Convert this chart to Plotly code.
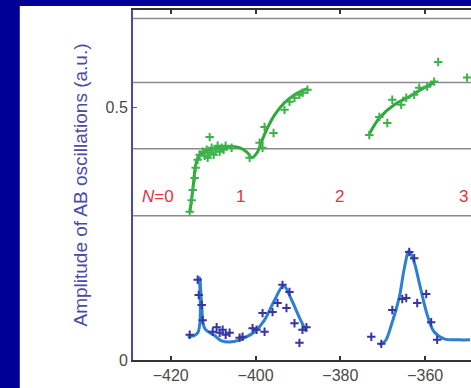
import plotly.graph_objects as go

# ---- data ----
green_pts_x = [-415.53, -415.06, -414.82, -414.35, -414.12, -413.65, -413.18, -412.47, -412.0, -411.53,
               -411.29, -410.82, -410.35, -409.88, -409.41, -408.94, -408.47, -408.0, -407.53, -407.06,
               -410.82, -405.65, -401.41, -399.06, -398.35, -397.88, -395.76, -393.18, -392.0, -390.82,
               -389.65, -388.94, -387.76,
               -373.18, -370.82, -368.94, -367.76, -365.65, -364.47, -362.59, -361.41, -359.53, -357.88,
               -356.94, -350.12]
green_pts_y = [0.294, 0.317, 0.337, 0.361, 0.381, 0.397, 0.407, 0.413, 0.405, 0.417,
               0.401, 0.411, 0.421, 0.407, 0.417, 0.425, 0.413, 0.421, 0.417, 0.425,
               0.442, 0.421, 0.401, 0.431, 0.421, 0.462, 0.450, 0.496, 0.512, 0.520,
               0.526, 0.530, 0.536,
               0.446, 0.482, 0.470, 0.516, 0.506, 0.520, 0.526, 0.540, 0.542, 0.552,
               0.591, 0.560]

green_fit1_x = [-415.5, -414.8, -414.1, -413.2, -410.8, -407.3, -403.8, -401.9, -400.9, -399.5,
                -398.4, -397.2, -395.5, -393.2, -390.8, -387.8]
green_fit1_y = [0.292, 0.337, 0.387, 0.407, 0.417, 0.423, 0.421, 0.411, 0.401, 0.413,
                0.437, 0.460, 0.486, 0.510, 0.526, 0.538]
green_fit2_x = [-373.2, -370.8, -367.3, -363.8, -360.2, -357.9]
green_fit2_y = [0.448, 0.480, 0.506, 0.522, 0.540, 0.550]

blue_pts_x = [-415.53, -413.65, -413.41, -412.7, -412.47, -409.18, -408.47, -407.76, -407.06, -406.12,
              -410.1, -403.76, -403.06, -400.71, -399.76, -397.88, -398.35, -396.0, -394.82, -393.65,
              -392.0, -392.71, -390.82, -388.94, -388.0, -389.65,
              -372.71, -370.35, -367.76, -365.41, -364.47, -363.76, -362.59, -361.88, -359.76, -358.59,
              -357.18]
blue_pts_y = [0.050, 0.159, 0.129, 0.109, 0.079, 0.065, 0.054, 0.060, 0.050, 0.054,
              0.056, 0.044, 0.046, 0.063, 0.060, 0.056, 0.093, 0.095, 0.113, 0.149,
              0.135, 0.103, 0.073, 0.060, 0.065, 0.034,
              0.046, 0.032, 0.099, 0.121, 0.123, 0.214, 0.202, 0.113, 0.131, 0.075,
              0.040]

blue_fit1_x = [-416.0, -413.65, -413.18, -412.7, -412.0, -409.6, -408.0, -405.6, -402.6, -400.2,
               -397.9, -395.5, -393.4, -391.5, -389.6, -388.0]
blue_fit1_y = [0.046, 0.054, 0.163, 0.109, 0.063, 0.048, 0.038, 0.036, 0.044, 0.056,
               0.079, 0.119, 0.147, 0.119, 0.083, 0.056]
blue_fit2_x = [-370.8, -369.4, -368.0, -366.1, -364.9, -363.8, -362.6, -361.4, -359.5, -357.9,
               -355.5, -352.0, -349.4]
blue_fit2_y = [0.030, 0.038, 0.069, 0.125, 0.183, 0.216, 0.194, 0.153, 0.089, 0.056,
               0.042, 0.040, 0.040]

level_lines_y = [0.286, 0.419, 0.550, 0.677]
n_labels = ["<i>N</i>=0", "1", "2", "3"]
n_labels_x = [-423.1, -403.5, -380.2, -350.9]
n_label_y = 0.325

x_ticks = [-420, -400, -380, -360]
y_ticks = [0, 0.5]
y_tick_text = ["0", "0.5"]

GREEN_LINE = "#2fa83c"
GREEN_MK = "#3cb34a"
BLUE_LINE = "#2c80d2"
BLUE_MK = "#3535a5"

fig = go.Figure()

for fx, fy in [(green_fit1_x, green_fit1_y), (green_fit2_x, green_fit2_y)]:
    fig.add_trace(go.Scatter(x=fx, y=fy, mode="lines", line=dict(color=GREEN_LINE, width=3),
                             line_shape="spline", hoverinfo="skip"))
fig.add_trace(go.Scatter(x=green_pts_x, y=green_pts_y, mode="markers",
                         marker=dict(symbol="cross-thin", size=6, line=dict(color=GREEN_MK, width=2))))

for fx, fy in [(blue_fit1_x, blue_fit1_y), (blue_fit2_x, blue_fit2_y)]:
    fig.add_trace(go.Scatter(x=fx, y=fy, mode="lines", line=dict(color=BLUE_LINE, width=3),
                             line_shape="spline", hoverinfo="skip"))
fig.add_trace(go.Scatter(x=blue_pts_x, y=blue_pts_y, mode="markers",
                         marker=dict(symbol="cross-thin", size=6, line=dict(color=BLUE_MK, width=2))))

shapes = [dict(type="rect", xref="paper", yref="paper", x0=-0.335, x1=1.1, y0=-0.2, y1=1.0115,
               fillcolor="white", line=dict(width=0), layer="below")]
for ly in level_lines_y:
    shapes.append(dict(type="line", xref="paper", yref="y", x0=0, x1=1, y0=ly, y1=ly,
                       line=dict(color="#8a8a8a", width=1.5), layer="below"))

annotations = []
for t, xv in zip(n_labels, n_labels_x):
    annotations.append(dict(x=xv, y=n_label_y, xref="x", yref="y", text=t, showarrow=False,
                            font=dict(color="#e8323c", size=17, family="Liberation Sans, Arial")))

fig.update_layout(
    width=471, height=388,
    margin=dict(l=133, r=0, t=10, b=28),
    paper_bgcolor="#000096",
    plot_bgcolor="rgba(0,0,0,0)",
    showlegend=False,
    shapes=shapes,
    annotations=annotations,
    font=dict(family="Liberation Sans, Arial", color="#555555"),
)
fig.update_xaxes(range=[-428.9, -349.2], tickvals=x_ticks, ticks="inside", ticklen=4, tickwidth=1.5,
                 tickcolor="#333333", showline=True, linecolor="#333333", linewidth=1.5, mirror="ticks",
                 showgrid=False, zeroline=False, tickfont=dict(size=16, color="#4a4a4a"))
fig.update_yaxes(range=[0, 0.694], tickvals=y_ticks, ticktext=y_tick_text, ticks="inside", ticklen=4,
                 tickcolor="#5555aa", showline=True, linecolor="#4a4aae", linewidth=2,
                 showgrid=False, zeroline=False, tickfont=dict(size=16, color="#4a4a4a"),
                 title=dict(text="Amplitude of AB oscillations (a.u.)", standoff=13,
                            font=dict(size=19, color="#4a4aa8")))

fig.write_html("out.html")
